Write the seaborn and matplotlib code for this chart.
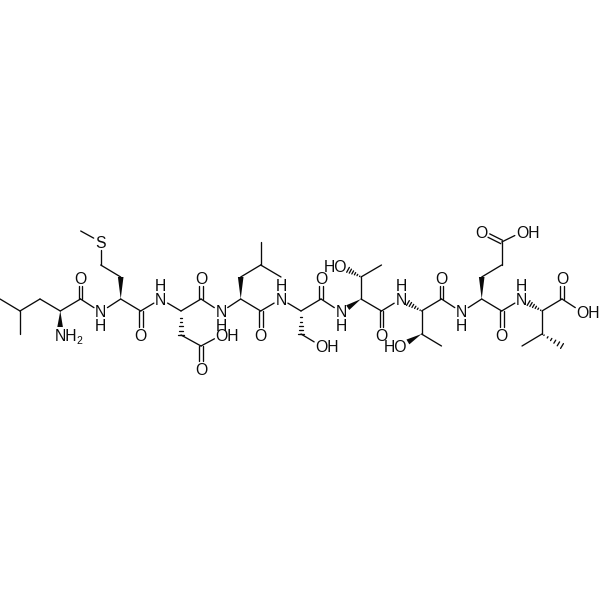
import numpy as np
import pandas as pd
import matplotlib
matplotlib.use('Agg')
import matplotlib.pyplot as plt
import seaborn as sns

sns.set_theme(style="white")
plt.rcParams['font.family'] = ['Liberation Sans', 'DejaVu Sans']

# atom positions (pixels, y down)
atom_names = ['C1', 'C2', 'C3', 'C4', 'C5', 'N5', 'C6', 'O6', 'N7', 'C8', 'C9', 'C10', 'S', 'C11',
              'C12', 'O12', 'N13', 'C14', 'C15', 'C16', 'O16a', 'O16b', 'C17', 'O17', 'N18',
              'C19', 'C20', 'C21', 'C22', 'C23', 'C24', 'O24', 'N25', 'C26', 'C27', 'O27',
              'C28', 'O28', 'N29', 'C30', 'C31', 'C32', 'O31', 'C33', 'O33', 'N34',
              'C35', 'C36', 'C37', 'O36', 'C38', 'O38', 'N39', 'C40', 'C41', 'C42', 'C43',
              'O43a', 'O43b', 'C44', 'O44', 'N45', 'C46', 'C47', 'C48', 'C49', 'C50', 'O50a', 'O50b']
atom_x = [0, 20, 20, 40, 60.3, 60, 80.5, 80.5, 100.7, 120.7, 120.7, 100.7, 100.7, 80.7,
          140.7, 140.7, 160.7, 181, 181, 201, 201, 221.5, 201, 201, 221,
          240.7, 240.7, 260.7, 260.7, 281, 260.7, 260.7, 281, 301, 301, 321,
          321, 321, 341, 361, 361, 381.5, 341, 381.5, 381.5, 401,
          421.5, 421.5, 441.5, 401, 441.5, 441.5, 461.5, 481.7, 481.7, 501.7, 501.7,
          481.7, 522, 501.7, 501.7, 521.7, 542, 542, 522, 562, 562, 562, 582]
atom_y = [299, 311, 334, 299, 311, 335, 299, 278, 312, 299, 277, 265, 242, 231,
          311, 335, 299, 311, 335, 346, 369, 335, 299, 278, 312,
          299, 277, 265, 242, 277, 311, 335, 299, 311, 334, 346,
          299, 278, 312, 299, 277, 265, 266, 311, 335, 299,
          311, 334, 346, 346, 299, 278, 312, 299, 277, 265, 242,
          232, 232, 311, 335, 299, 311, 334, 346, 346, 299, 278, 312]

single_bonds = [('C1', 'C2'), ('C2', 'C3'), ('C2', 'C4'), ('C4', 'C5'), ('C5', 'C6'), ('C6', 'N7'),
                ('N7', 'C8'), ('C9', 'C10'), ('C10', 'S'), ('S', 'C11'), ('C8', 'C12'), ('C12', 'N13'),
                ('N13', 'C14'), ('C15', 'C16'), ('C16', 'O16b'), ('C14', 'C17'), ('C17', 'N18'),
                ('N18', 'C19'), ('C20', 'C21'), ('C21', 'C22'), ('C21', 'C23'), ('C19', 'C24'),
                ('C24', 'N25'), ('N25', 'C26'), ('C27', 'O27'), ('C26', 'C28'), ('C28', 'N29'),
                ('C30', 'C31'), ('C31', 'C32'), ('C30', 'C33'), ('C33', 'N34'), ('C35', 'C36'),
                ('C36', 'C37'), ('C35', 'C38'), ('C38', 'N39'), ('N39', 'C40'), ('C41', 'C42'),
                ('C42', 'C43'), ('C43', 'O43b'), ('C40', 'C44'), ('C44', 'N45'), ('C46', 'C47'),
                ('C47', 'C48'), ('C46', 'C50'), ('C50', 'O50b')]
double_bonds = [('C6', 'O6'), ('C12', 'O12'), ('C16', 'O16a'), ('C17', 'O17'), ('C24', 'O24'),
                ('C28', 'O28'), ('C33', 'O33'), ('C38', 'O38'), ('C43', 'O43a'), ('C44', 'O44'),
                ('C50', 'O50a')]
wedge_bonds = [('C5', 'N5'), ('C8', 'C9'), ('C19', 'C20'), ('C30', 'N29'), ('C36', 'O36'), ('C40', 'C41')]
hash_bonds = [('C14', 'C15'), ('C26', 'C27'), ('C31', 'O31'), ('C35', 'N34'), ('C46', 'N45'), ('C47', 'C49')]

# atom labels
label_atom = ['N5', 'O6', 'N7', 'S', 'O12', 'N13', 'O16a', 'O16b', 'O17', 'N18', 'O24',
              'N25', 'O27', 'O28', 'N29', 'O31', 'O33', 'N34', 'O36', 'O38', 'N39',
              'O43a', 'O43b', 'O44', 'N45', 'O50a', 'O50b']
label_text = ['NH', 'O', 'N\nH', 'S', 'O', 'H\nN', 'O', 'OH', 'O', 'N\nH', 'O',
              'H\nN', 'OH', 'O', 'N\nH', 'HO', 'O', 'H\nN', 'HO', 'O', 'N\nH',
              'O', 'OH', 'O', 'H\nN', 'O', 'OH']

pos = dict(zip(atom_names, zip(atom_x, atom_y)))
labelled = {a: 8.0 for a in label_atom}
ink = '#0a0a0a'
font = 11.3
cap = 5.6  # half the letter height in pixels


def trimmed(a, b):
    p, q = np.array(pos[a], float), np.array(pos[b], float)
    u = (q - p) / np.hypot(*(q - p))
    return p + u * labelled.get(a, 0), q - u * labelled.get(b, 0), u


rows = []
n = 0
for a, b in single_bonds:
    p, q, u = trimmed(a, b)
    rows += [(n, *p), (n, *q)]
    n += 1
for a, b in double_bonds:
    p, q, u = trimmed(a, b)
    side = np.array([-u[1], u[0]]) * 1.9
    for s in (-1, 1):
        rows += [(n, *(p + s * side)), (n, *(q + s * side))]
        n += 1
hatch_rows = []
for a, b in hash_bonds:
    p, q, u = trimmed(a, b)
    side = np.array([-u[1], u[0]])
    for f in np.linspace(0.1, 1, 6):
        c = p + (q - p) * f
        hatch_rows += [(n, *(c - side * 2.8 * f)), (n, *(c + side * 2.8 * f))]
        n += 1
bonds = pd.DataFrame(rows, columns=['bond', 'x', 'y'])
hatches = pd.DataFrame(hatch_rows, columns=['bond', 'x', 'y'])

fig = plt.figure(figsize=(6, 6), dpi=100, facecolor='white')
ax = fig.add_axes([0, 0, 1, 1])
sns.lineplot(data=bonds, x='x', y='y', units='bond', estimator=None, sort=False,
             color=ink, lw=0.95, legend=False, ax=ax)
sns.lineplot(data=hatches, x='x', y='y', units='bond', estimator=None, sort=False,
             color=ink, lw=0.95, legend=False, ax=ax)

for a, b in wedge_bonds:
    p, q, u = trimmed(a, b)
    side = np.array([-u[1], u[0]]) * 2.8
    tri = np.array([p, q + side, q - side])
    ax.fill(tri[:, 0], tri[:, 1], color=ink, lw=0)

for txt, a in zip(label_text, label_atom):
    x, y = pos[a]
    if txt == 'N\nH':
        y += 13.3
    kw = dict(va='baseline', fontsize=font, color=ink, linespacing=0.88)
    if txt == 'OH':
        ax.text(x - 6, y + cap, txt, ha='left', **kw)
    elif txt == 'HO':
        ax.text(x + 6, y + cap, txt, ha='right', **kw)
    elif txt == 'NH':
        ax.text(x - 5, y + cap, txt, ha='left', **kw)
        ax.text(x + 16.5, y + cap + 3, '2', ha='left', va='baseline', fontsize=7.5, color=ink)
    else:
        ax.text(x, y + cap, txt, ha='center', multialignment='center', **kw)

ax.set_xlim(0, 600)
ax.set_ylim(600, 0)
ax.axis('off')
fig.savefig('out.png', dpi=100, facecolor='white')
